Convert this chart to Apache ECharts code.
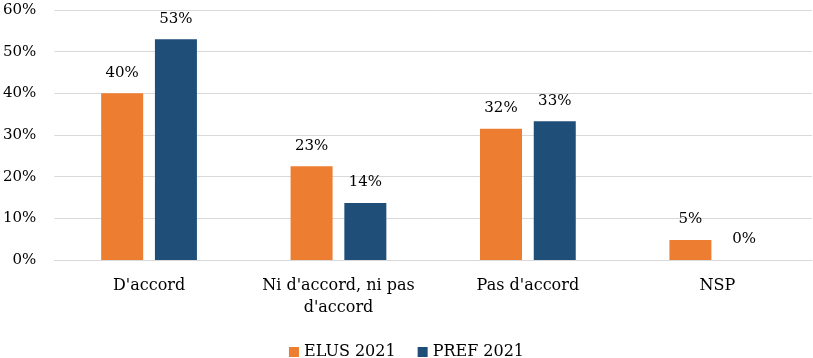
<!DOCTYPE html>
<html><head><meta charset="utf-8">
<script src="https://cdn.jsdelivr.net/npm/echarts@6/dist/echarts.min.js"></script>
<style>html,body{margin:0;padding:0;background:#fff}#c{width:813px;height:358px}</style>
</head><body><div id="c"></div>
<script>
const categories = ["D'accord", "Ni d'accord, ni pas\nd'accord", "Pas d'accord", "NSP"];
const elus2021 = [40, 22.5, 31.5, 4.8];
const pref2021 = [53, 13.7, 33.3, 0];
const elusLabels = ["40%", "23%", "32%", "5%"];
const prefLabels = ["53%", "14%", "33%", "0%"];
const yTicks = [0, 10, 20, 30, 40, 50, 60];

const FONT = "'DejaVu Serif', serif";
const chart = echarts.init(document.getElementById('c'));
function lbl(arr){return {show:true, position:'top', distance:13, color:'#000', fontFamily:FONT, fontSize:15,
  formatter:p=>arr[p.dataIndex]};}
chart.setOption({
  animation:false,
  textStyle:{fontFamily:FONT},
  grid:{left:54, right:1, top:10, bottom:98, containLabel:false},
  legend:{top:339, left:'center', itemWidth:10, itemHeight:10, itemGap:22, icon:'rect',
    textStyle:{fontFamily:FONT, fontSize:16, color:'#000'}, data:['ELUS 2021','PREF 2021']},
  xAxis:{type:'category', data:categories, axisTick:{show:false},
    axisLine:{lineStyle:{color:'#d9d9d9'}},
    axisLabel:{interval:0, hideOverlap:false, color:'#000', fontFamily:FONT, fontSize:16, margin:15, lineHeight:22}},
  yAxis:{type:'value', min:yTicks[0], max:yTicks[yTicks.length-1], interval:10,
    axisLabel:{color:'#000', fontFamily:FONT, fontSize:15, margin:18, formatter:v=>v+'%'},
    splitLine:{lineStyle:{color:'#d9d9d9'}}, axisLine:{show:false}, axisTick:{show:false}},
  series:[
    {name:'ELUS 2021', type:'bar', data:elus2021, itemStyle:{color:'#ED7D31'}, barWidth:42, barGap:'28%', label:lbl(elusLabels)},
    {name:'PREF 2021', type:'bar', data:pref2021, itemStyle:{color:'#1F4E79'}, barWidth:42, label:lbl(prefLabels)}
  ]
});
</script></body></html>
